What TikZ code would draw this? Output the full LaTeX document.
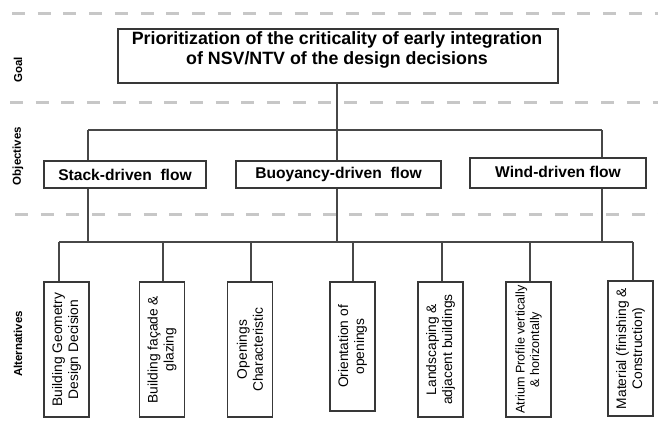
\documentclass[tikz,border=0pt]{standalone}
\usepackage{fontspec}
\setmainfont{Liberation Sans}
\begin{document}
\begin{tikzpicture}[x=1pt,y=-1pt,
  sep/.style={draw=black!22, line width=3pt, dash pattern=on 13pt off 12.7pt},
  conn/.style={draw=black!72, line width=1.1pt},
  box/.style={draw=black!78, line width=1.2pt, fill=white, inner sep=0pt},
  objbox/.style={box, minimum height=27pt, font=\fontsize{15.6}{18}\selectfont\bfseries},
  altbox/.style={box, rotate=90, minimum width=135pt, minimum height=45pt, align=center,
    font=\fontsize{13.8}{16}\selectfont},
  lvl/.style={rotate=90, font=\fontsize{11.5}{13}\selectfont\bfseries, inner sep=0pt}]
\useasboundingbox (0,0) rectangle (658,426);
% separators
\coordinate (s1a) at (12,13);  \coordinate (s1b) at (658,13);
\coordinate (s2a) at (10,102); \coordinate (s2b) at (658,102);
\coordinate (s3a) at (15,214); \coordinate (s3b) at (658,214);
\draw[sep] (s1a) -- (s1b);
\draw[sep] (s2a) -- (s2b);
\draw[sep] (s3a) -- (s3b);
% level labels
\node[lvl] (lgoal) at (18,70) {Goal};
\node[lvl] (lobj) at (18,156) {Objectives};
\node[lvl] (lalt) at (18,344) {Alternatives};
% goal
\node[box, minimum width=440pt, minimum height=54pt] (goal) at (338,56) {};
\node[align=center, font=\fontsize{17.8}{20.5}\selectfont\bfseries, inner sep=0pt] (goaltext) at (337,50)
  {Prioritization of the criticality of early integration\\of NSV/NTV of the design decisions};
% objectives
\node[objbox, minimum width=162pt] (stack) at (125,174.5) {Stack-driven\ \ flow};
\node[objbox, minimum width=205pt] (buoy) at (338.5,174.5) {Buoyancy-driven\ \ flow};
\node[box, minimum width=176pt, minimum height=30pt, font=\fontsize{15.6}{18}\selectfont\bfseries] (wind) at (558,173) {\raisebox{3pt}{Wind-driven flow}};
% alternatives
\node[altbox] (a1) at (66.5,349.5) {Building Geometry\\Design Decision};
\node[altbox] (a2) at (162,349.5) {Building façade \&\\glazing};
\node[altbox] (a3) at (250,349.5) {Openings\\Characteristic};
\node[altbox, minimum width=129pt] (a4) at (352.5,346.5) {Orientation of\\openings};
\node[altbox] (a5) at (440.5,349.5) {Landscaping \&\\adjacent buildings};
\node[altbox, font=\fontsize{12.6}{14.5}\selectfont] (a6) at (528.5,349.5) {Atrium Profile vertically\\\& horizontally};
\node[altbox] (a7) at (630.5,348.5) {Material (finishing \&\\Construction)};
% connectors top
\coordinate (t1) at (88,130);
\coordinate (t2) at (602,130);
\coordinate (tm) at (337,130);
\draw[conn] (goal.south -| tm) -- (tm);
\draw[conn] (t1) -- (t2);
\draw[conn] (t1) -- (t1 |- stack.north);
\draw[conn] (tm) -- (tm |- buoy.north);
\draw[conn] (t2) -- (t2 |- wind.north);
% connectors bottom
\coordinate (b1) at (59,242);
\coordinate (b2) at (163,242);
\coordinate (b3) at (251,242);
\coordinate (b4) at (353,242);
\coordinate (b5) at (442,242);
\coordinate (b6) at (530,242);
\coordinate (b7) at (633,242);
\draw[conn] (stack.south -| t1) -- (t1 |- b1);
\draw[conn] (buoy.south -| tm) -- (tm |- b1);
\draw[conn] (wind.south -| t2) -- (t2 |- b1);
\draw[conn] (b1) -- (b7);
\draw[conn] (b1) -- (b1 |- a1.east);
\draw[conn] (b2) -- (b2 |- a2.east);
\draw[conn] (b3) -- (b3 |- a3.east);
\draw[conn] (b4) -- (b4 |- a4.east);
\draw[conn] (b5) -- (b5 |- a5.east);
\draw[conn] (b6) -- (b6 |- a6.east);
\draw[conn] (b7) -- (b7 |- a7.east);
\end{tikzpicture}
\end{document}
